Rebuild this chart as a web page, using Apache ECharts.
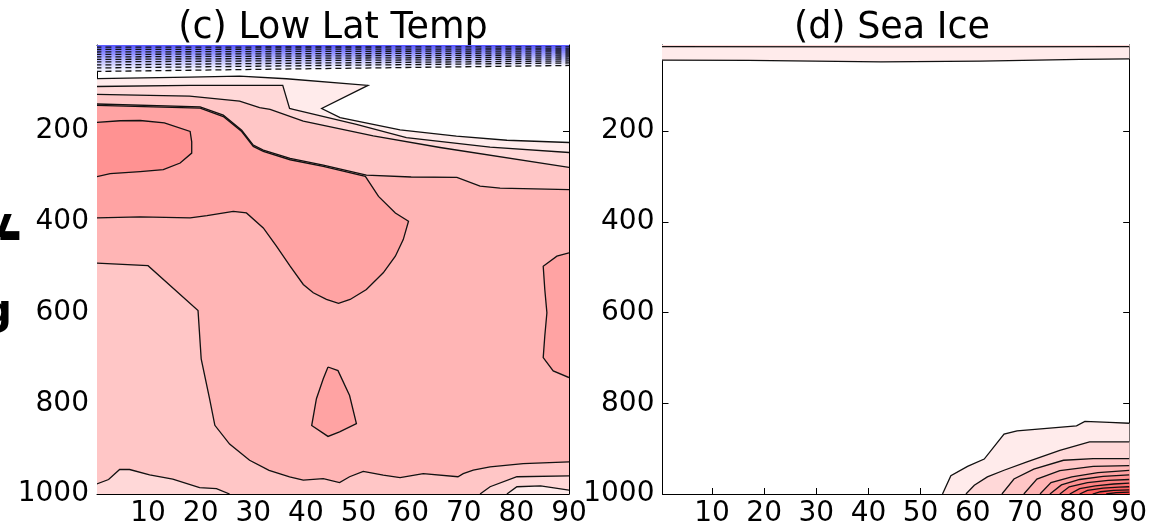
<!DOCTYPE html>
<html>
<head>
<meta charset="utf-8">
<script src="https://cdn.jsdelivr.net/npm/echarts@6/dist/echarts.min.js"></script>
<style>
  html, body { margin: 0; padding: 0; background: #ffffff; }
  #chart { width: 1150px; height: 528px; }
</style>
</head>
<body>
<div id="chart"></div>
<script>
// ---- axes ----
const latTicks = [10, 20, 30, 40, 50, 60, 70, 80, 90];
const presTicks = [200, 400, 600, 800, 1000];
const panelTitles = ['(c) Low Lat Temp', '(d) Sea Ice'];

// ---- shading levels (lightest first) ----
const blueShades = ['#eeeeff', '#dedeff', '#ceceff', '#bebeff', '#aeaeff', '#9e9eff', '#8e8eff', '#7e7eff', '#6e6eff', '#5e5eff'];
const redShades = ['#ffebeb', '#ffd8d8', '#ffc6c6', '#ffb5b5', '#ffa3a3', '#ff9292', '#ff8181', '#ff7070', '#ff6060', '#ff5050', '#ff4040'];

// ---- (c) Low Lat Temp: regions below each negative level, [lat, hPa] ----
const tempNeg10 = [[0, 10], [0, 68.3], [45, 61.7], [90, 55.1], [90, 10]];
const tempNeg9  = [[0, 10], [0, 60.6], [45, 55.0], [90, 49.6], [90, 10]];
const tempNeg8  = [[0, 10], [0, 54.0], [45, 49.5], [90, 45.2], [90, 10]];
const tempNeg7  = [[0, 10], [0, 47.4], [45, 44.0], [90, 40.8], [90, 10]];
const tempNeg6  = [[0, 10], [0, 41.9], [45, 39.0], [90, 36.4], [90, 10]];
const tempNeg5  = [[0, 10], [0, 36.4], [45, 34.0], [90, 32.0], [90, 10]];
const tempNeg4  = [[0, 10], [0, 30.9], [45, 29.0], [90, 27.6], [90, 10]];
const tempNeg3  = [[0, 10], [0, 25.4], [45, 24.0], [90, 23.2], [90, 10]];
const tempNeg2  = [[0, 10], [0, 19.9], [45, 19.0], [90, 18.8], [90, 10]];
const tempNeg1  = [[0, 10], [0, 14.6], [45, 14.4], [90, 14.2], [90, 10]];

// ---- (c) Low Lat Temp: regions above each positive level ----
const tempPos1 = [[0, 1000], [0, 84], [17.9, 81], [27.4, 78.6], [36.3, 84.4], [51.8, 99], [43, 150], [46.5, 170],
  [57.9, 197], [68.6, 211], [78.2, 220], [90, 225], [90, 1000]];
const tempPos2 = [[0, 1000], [0, 101.5], [17.9, 99], [35.6, 99], [36.9, 150], [37.6, 152], [49.6, 185], [59.1, 214],
  [75, 235], [90, 247], [90, 991.6], [84.6, 982], [80.1, 984], [78.2, 1000]];
const tempPos3 = [[0, 979], [0, 119], [17.9, 122.6], [27.4, 133.6], [31.2, 148], [33.2, 152], [39.5, 177.6], [52.8, 210.6],
  [65.5, 236], [90, 280], [90, 960], [80.1, 962], [75, 984], [73.1, 1000], [25.5, 1000], [23, 988], [19.8, 986],
  [14.7, 967], [10.3, 958], [6.5, 946], [4.6, 946], [2.5, 968]];
const tempPos4 = [[0, 490.7], [0, 140], [19.9, 146.3], [24.3, 164.7], [27.8, 197.7], [30, 230.7], [31.9, 241.7],
  [37, 260], [43.3, 274.7], [51.5, 296.7], [60, 301], [68.7, 302], [73.1, 321], [76.9, 325.5], [90, 329],
  [90, 929], [81.3, 933], [75, 940], [71.8, 947.6], [69.9, 955], [68.9, 962], [62.3, 955],
  [57.9, 964], [54.7, 958.6], [50.9, 950], [48.3, 962], [46.4, 974.7], [43.3, 966], [39.5, 969.6], [36.9, 962],
  [33, 948], [29.3, 925.6], [25.5, 890], [22.7, 848.6], [21.7, 790], [20.1, 702], [19.5, 595.6], [10, 496.6]];
const tempPos5 = [[0, 391.3], [0, 143], [19.9, 149.3], [24.3, 167.7], [27.8, 200.7], [30, 233.7], [31.9, 244.7],
  [37, 263], [43.3, 277.7], [51.3, 299.7], [53.8, 343.7], [57, 380.3], [59.5, 398.7], [58.5, 439], [57, 475.7],
  [54.7, 512.3], [51.5, 549], [48.4, 571], [46.2, 579.8], [43.9, 571], [41.4, 556.3], [39.5, 538], [37, 497.7],
  [34.4, 453.7], [31.9, 413.3], [28.7, 380.3], [26.2, 376.7], [21.2, 386.2], [18, 391.3], [8.5, 389.1]];
const tempPos5East = [[90, 743.3], [90, 468.3], [87.7, 475.7], [85.1, 497.7], [85.4, 549], [85.8, 600.3],
  [85.4, 651.7], [85.1, 699.3], [87, 728.7]];
const tempPos5Mid = [[44.2, 720], [46.1, 728], [48.3, 783], [49.6, 845], [46.4, 863], [44.2, 873], [41.1, 849], [42, 790], [43.3, 746]];
const tempPos6 = [[0, 301], [0, 181], [4.7, 177], [8.5, 176.5], [13.1, 181.6], [18, 200.7], [18.3, 223.4],
  [18.3, 248.3], [16.1, 270.3], [12.9, 285], [8.5, 289.4], [2.8, 293.8]];

// ---- (d) Sea Ice ----
const icePos1Top = [[0, 10], [0, 43.4], [17.1, 44.1], [42.4, 47], [61.5, 45.6], [80.5, 41.9], [90, 40.4], [90, 10]];
const icePos2Top = [[0, 10], [0, 13.5], [45, 14], [90, 13.5], [90, 10]];
const icePos1 = [[90, 1000], [54.2, 1000], [55.8, 959.6], [59, 939], [62.2, 923], [66, 868], [68.5, 860.6], [79.9, 849.6], [81.5, 840], [86.2, 842], [90, 844]];
const icePos2 = [[90, 1000], [58.7, 1000], [60.3, 980.6], [62.8, 962.2], [66, 947.6], [70.4, 929.2], [76.7, 903.6], [82.4, 885.2], [90, 885.2]];
const icePos3 = [[90, 1000], [65.6, 1000], [67.9, 967], [71.7, 945], [77.4, 925.6], [83.1, 921.9], [90, 921.9]];
const icePos4 = [[90, 1000], [69.8, 1000], [72.3, 967], [76.7, 948.6], [83.1, 938.9], [90, 937.6]];
const icePos5 = [[90, 1000], [72.9, 1000], [75, 975], [79, 962], [84, 953], [90, 948]];
const icePos6 = [[90, 1000], [74.8, 1000], [77, 980], [80.5, 968], [85, 961], [90, 958]];
const icePos7 = [[90, 1000], [76.7, 1000], [78.5, 984], [82, 975], [86, 970], [90, 968]];
const icePos8 = [[90, 1000], [78.6, 1000], [80.5, 988], [83.5, 982], [87, 978], [90, 976]];
const icePos9 = [[90, 1000], [80.5, 1000], [82, 992], [85, 987], [88, 985], [90, 984]];
const icePos10 = [[90, 1000], [83, 1000], [84.5, 995], [87, 992], [90, 991]];
const icePos11 = [[90, 1000], [85.6, 1000], [87.5, 997], [90, 996]];

// panel, outline, shade list, level index, dashed contour
const layers = [
  [0, tempNeg10, blueShades, 0, true], [0, tempNeg9, blueShades, 1, true], [0, tempNeg8, blueShades, 2, true],
  [0, tempNeg7, blueShades, 3, true], [0, tempNeg6, blueShades, 4, true], [0, tempNeg5, blueShades, 5, true],
  [0, tempNeg4, blueShades, 6, true], [0, tempNeg3, blueShades, 7, true], [0, tempNeg2, blueShades, 8, true],
  [0, tempNeg1, blueShades, 9, true],
  [0, tempPos1, redShades, 0, false], [0, tempPos2, redShades, 1, false], [0, tempPos3, redShades, 2, false],
  [0, tempPos4, redShades, 3, false], [0, tempPos5, redShades, 4, false], [0, tempPos5East, redShades, 4, false],
  [0, tempPos5Mid, redShades, 4, false], [0, tempPos6, redShades, 5, false],
  [1, icePos1Top, redShades, 0, false], [1, icePos2Top, redShades, 1, false],
  [1, icePos1, redShades, 0, false], [1, icePos2, redShades, 1, false], [1, icePos3, redShades, 2, false],
  [1, icePos4, redShades, 3, false], [1, icePos5, redShades, 4, false], [1, icePos6, redShades, 5, false],
  [1, icePos7, redShades, 6, false], [1, icePos8, redShades, 7, false], [1, icePos9, redShades, 8, false],
  [1, icePos10, redShades, 9, false], [1, icePos11, redShades, 10, false]
];

const FONT = '"DejaVu Sans", sans-serif';
const LAT_MIN = 0.3, LAT_MAX = 90, P_TOP = 10, P_BOTTOM = 1000;

// A vertex lying on the plot frame; edges between two such vertices are not contour lines.
function onFrame(pt) {
  return pt[0] <= LAT_MIN || pt[0] >= LAT_MAX || pt[1] <= P_TOP || pt[1] >= P_BOTTOM;
}

function contourRuns(pts) {
  const runs = [];
  let cur = null;
  for (let i = 0; i < pts.length; i++) {
    const a = pts[i], b = pts[(i + 1) % pts.length];
    if (onFrame(a) && onFrame(b)) { cur = null; continue; }
    if (!cur) { cur = [a]; runs.push(cur); }
    cur.push(b);
  }
  return runs;
}

const grids = [
  { left: 97, top: 45, width: 472, height: 450 },
  { left: 662.5, top: 45, width: 470.5, height: 450 }
];
const latMins = [0.3, 0.5];

const xAxes = [], yAxes = [];
grids.forEach((g, gi) => {
  ['bottom', 'top'].forEach(pos => xAxes.push({
    type: 'value', gridIndex: gi, position: pos, min: latMins[gi], max: LAT_MAX,
    axisLine: { show: true, onZero: false, lineStyle: { color: '#000', width: 1 } },
    axisTick: { show: true, inside: true, length: 6, customValues: latTicks, lineStyle: { color: '#000' } },
    axisLabel: { show: pos === 'bottom', customValues: latTicks, formatter: v => String(v),
      color: '#000', fontSize: 28, fontFamily: FONT, margin: 6 },
    splitLine: { show: false }
  }));
  ['left', 'right'].forEach(pos => yAxes.push({
    type: 'value', gridIndex: gi, position: pos, inverse: true, min: P_TOP, max: P_BOTTOM,
    axisLine: { show: true, onZero: false, lineStyle: { color: '#000', width: 1 } },
    axisTick: { show: true, inside: true, length: 6, customValues: presTicks, lineStyle: { color: '#000' } },
    axisLabel: { show: pos === 'left', customValues: presTicks, formatter: v => String(v),
      color: '#000', fontSize: 28, fontFamily: FONT, margin: 8 },
    splitLine: { show: false }
  }));
});

const fillSeries = layers.map(([gi, pts, shades, lvl]) => ({
  type: 'custom', coordinateSystem: 'cartesian2d', xAxisIndex: gi * 2, yAxisIndex: gi * 2,
  clip: true, silent: true, z: 1, data: [[45, 500]],
  renderItem: (params, api) => ({
    type: 'polygon',
    shape: { points: pts.map(p => api.coord(p)) },
    style: { fill: shades[lvl], stroke: shades[lvl], lineWidth: 0.5 }
  })
}));

const lineSeries = layers.map(([gi, pts, shades, lvl, dashed]) => ({
  type: 'custom', coordinateSystem: 'cartesian2d', xAxisIndex: gi * 2, yAxisIndex: gi * 2,
  clip: true, silent: true, z: 2, data: [[45, 500]],
  renderItem: (params, api) => ({
    type: 'group',
    children: contourRuns(pts).map(run => ({
      type: 'polyline',
      shape: { points: run.map(p => api.coord(p)) },
      style: { stroke: '#111', lineWidth: 1.3, fill: null, lineDash: dashed ? [6, 4] : null }
    }))
  })
}));

const titleCenters = [333, 892];
const titleText = panelTitles.map((t, i) => ({
  type: 'text', x: titleCenters[i], y: 29,
  style: { text: t, font: '36.5px ' + FONT, fill: '#000', align: 'center', verticalAlign: 'middle' }
}));

// Clipped ends of a neighbouring label at the left margin
const marginText = [
  { type: 'text', x: -15, y: 226, style: { text: 'v', font: 'bold 42px ' + FONT, fill: '#000', align: 'left', verticalAlign: 'middle' } },
  { type: 'text', x: -3, y: 238, style: { text: '-', font: 'bold 62px ' + FONT, fill: '#000', align: 'left', verticalAlign: 'middle' } },
  { type: 'text', x: -18, y: 313, style: { text: 'g', font: 'bold 42px ' + FONT, fill: '#000', align: 'left', verticalAlign: 'middle' } }
];

const chart = echarts.init(document.getElementById('chart'), null, { renderer: 'canvas' });
chart.setOption({
  animation: false,
  backgroundColor: '#ffffff',
  grid: grids.map(g => Object.assign({ containLabel: false }, g)),
  xAxis: xAxes,
  yAxis: yAxes,
  series: fillSeries.concat(lineSeries),
  graphic: titleText.concat(marginText)
});
</script>
</body>
</html>
